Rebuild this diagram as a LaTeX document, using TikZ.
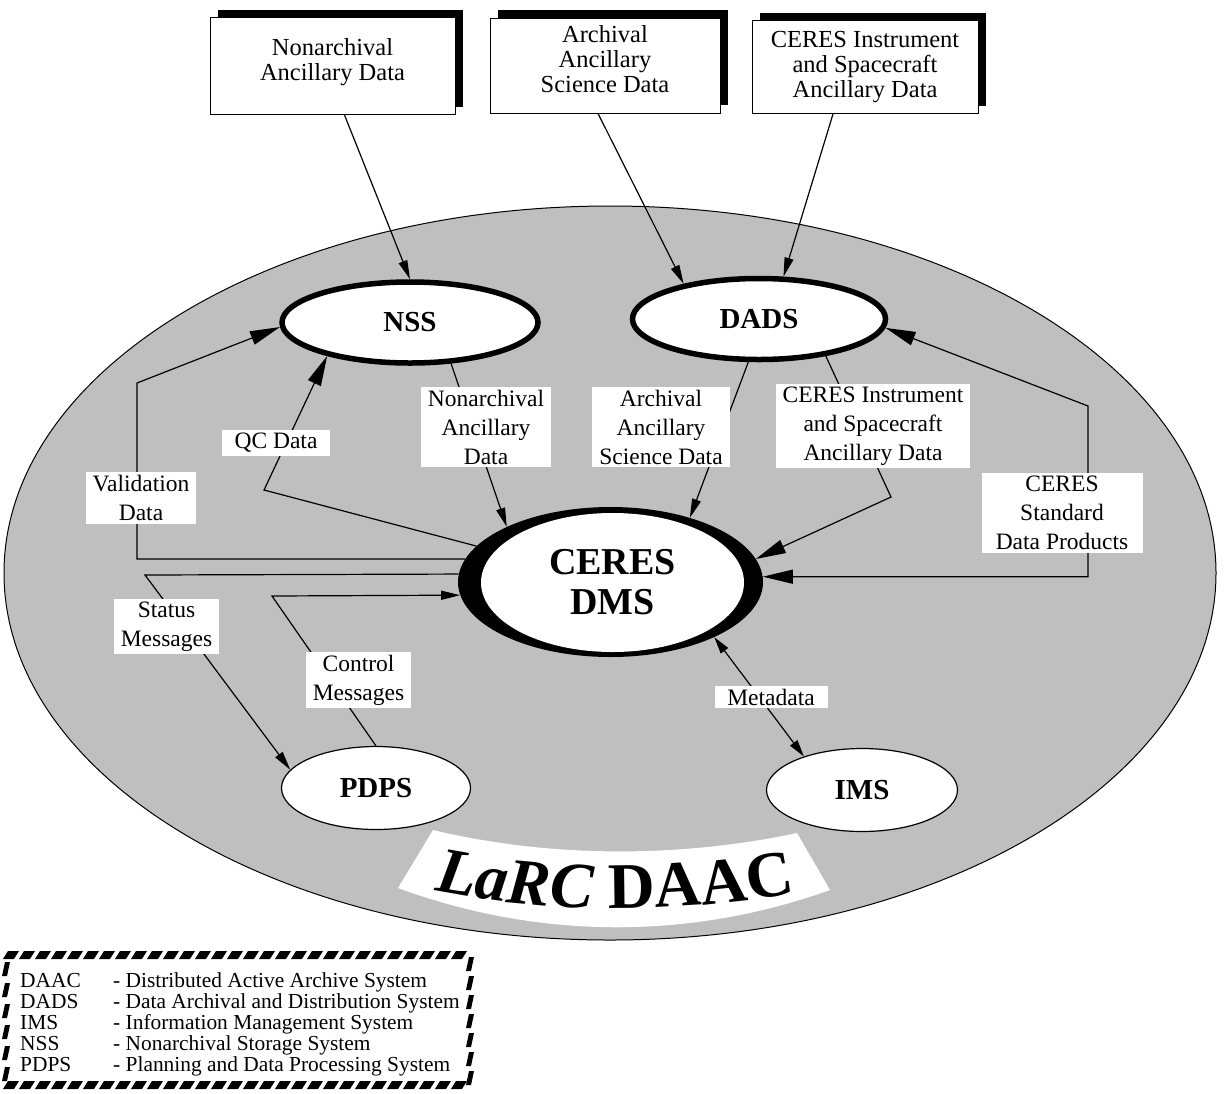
\documentclass[tikz,border=0pt]{standalone}
\usepackage{fontspec}
\setmainfont{Liberation Serif}
\usetikzlibrary{shapes.geometric,arrows.meta,shadows,decorations.text}

\definecolor{daacgray}{gray}{0.75}
\newcommand\lblfont{\fontsize{23.5}{29}\selectfont}
\newcommand\boxfont{\fontsize{24.5}{25}\selectfont}
\newcommand\sysfont{\fontsize{29}{30}\selectfont\bfseries}
\newcommand\dmsfont{\fontsize{38}{40}\selectfont\bfseries}
\newcommand\legfont{\fontsize{21.4}{21}\selectfont}
\newcommand\larcit{\fontsize{65}{65}\selectfont\bfseries\itshape}
\newcommand\daacbf{\fontsize{65}{65}\selectfont\bfseries\upshape}

\tikzset{
  srcbox/.style={draw, line width=1pt, fill=white, align=center, font=\boxfont,
    general shadow={shadow xshift=8pt, shadow yshift=8pt, fill=black}},
  sysbig/.style={ellipse, draw, line width=5.5pt, fill=white, font=\sysfont, inner sep=0pt},
  syssmall/.style={ellipse, draw, line width=1.2pt, fill=white, font=\sysfont, inner sep=0pt},
  lbl/.style={fill=white, align=center, font=\lblfont, inner xsep=7pt, inner ysep=3pt},
  legtxt/.style={anchor=base west, inner sep=0pt, font=\legfont},
  flow/.style={line width=1.2pt},
  bigtip/.style={flow, -{Triangle[length=30pt,width=14pt]}},
  smalltip/.style={flow, -{Triangle[length=19pt,width=9pt]}},
}

\begin{document}
\begin{tikzpicture}[x=1pt,y=-1pt]
\useasboundingbox (0,0) rectangle (1225,1093);

% LaRC DAAC area
\draw[line width=1pt, fill=daacgray] (610,573) ellipse [x radius=606, y radius=367];
\fill[white] (433,830) .. controls (550,858) and (680,858) .. (797,833)
  -- (830,890) .. controls (690,940) and (540,940) .. (398,888) -- cycle;
\path[decorate, decoration={text along path, text align=center,
  text={|\larcit|LaRC |\daacbf|DAAC}}]
  (405,884) .. controls (535,916) and (695,916) .. (825,886);

% external ancillary data sources
\node[srcbox, minimum width=245pt, minimum height=97pt, text depth=14pt] (nad) at (332.5,66) {Nonarchival\\Ancillary Data};
\node[srcbox, minimum width=230pt, minimum height=95pt, text depth=14pt] (aasd) at (605,65.5) {Archival\\Ancillary\\Science Data};
\node[srcbox, minimum width=226pt, minimum height=93pt] (cisa) at (865,67) {CERES Instrument\\and Spacecraft\\Ancillary Data};

% DAAC subsystems
\node[sysbig, minimum width=256pt, minimum height=81pt] (nss) at (410,322.5) {NSS};
\node[sysbig, minimum width=253pt, minimum height=81pt] (dads) at (759,319) {DADS};
\node[ellipse, fill=black, minimum width=305pt, minimum height=150pt, inner sep=0pt] (dms) at (610.5,582) {};
\node[ellipse, fill=white, minimum width=263pt, minimum height=139pt, inner sep=0pt,
  font=\dmsfont, align=center] (dmstext) at (612.5,582.5) {CERES\\DMS};
\node[syssmall, minimum width=189pt, minimum height=83pt] (pdps) at (376,788) {PDPS};
\node[syssmall, minimum width=191pt, minimum height=83pt] (ims) at (862,790) {IMS};

% bends
\coordinate (valbend) at (137,383);
\coordinate (qcbend) at (264,490);
\coordinate (stbend) at (145,575);
\coordinate (ctbend) at (272,596);
\coordinate (ciabend) at (891,497);
\coordinate (sdpbend) at (1088,406);

% flows
\draw[smalltip] ([xshift=12pt]nad.south) -- (nss.north);
\draw[smalltip] ([xshift=-7pt]aasd.south) -- (dads.155);
\draw[smalltip] ([xshift=-32pt]cisa.south) -- (dads.60);
\draw[bigtip] (dms.171) -| (valbend) -- (nss.182);
\draw[bigtip] (dms.165) -- (qcbend) -- (nss.202);
\draw[smalltip] (dms.177) -- (stbend) -- (pdps.168);
\draw[smalltip] (pdps.north) -- (ctbend) -- (dms.185);
\draw[smalltip] (nss.315) -- (dms.152);
\draw[smalltip] (dads.256) -- (dms.39);
\draw[bigtip] (dads.331) -- (ciabend) -- (dms.9);
\draw[flow, {Triangle[length=30pt,width=14pt]}-{Triangle[length=30pt,width=14pt]}] (dms.2) -| (sdpbend) -- (dads.356);
\draw[flow, {Triangle[length=17pt,width=9pt]}-{Triangle[length=17pt,width=9pt]}] (dms.332) -- (ims.150);

% flow labels
\node[lbl] (vald) at (141,498) {Validation\\Data};
\node[lbl, minimum width=108pt] (qcd) at (276,443) {QC Data};
\node[lbl] (stm) at (166.5,626.5) {Status\\Messages};
\node[lbl] (ctm) at (358.5,680) {Control\\Messages};
\node[lbl] (nadl) at (486,427) {Nonarchival\\Ancillary\\Data};
\node[lbl] (aasdl) at (661,427) {Archival\\Ancillary\\Science Data};
\node[lbl] (cisal) at (873,426) {CERES Instrument\\and Spacecraft\\Ancillary Data};
\node[lbl, minimum width=161pt] (sdpl) at (1062,513) {CERES\\Standard\\Data Products};
\node[lbl, minimum width=113pt] (meta) at (771,697) {Metadata};

% legend
\foreach \mx in {3,19,...,459} \fill (\mx,959) -- ++(5,-8) -- ++(11,0) -- ++(-5,8) -- cycle;
\foreach \mx in {3,19,...,459} \fill (\mx,1089) -- ++(5,-8) -- ++(11,0) -- ++(-5,8) -- cycle;
\foreach \my in {969,990,...,1074} \fill (2,\my+7) -- ++(3,-14) -- ++(5,0) -- ++(-3,14) -- cycle;
\foreach \my in {964,983,...,1078} \fill (466,\my+7) -- ++(3,-14) -- ++(5,0) -- ++(-3,14) -- cycle;
\foreach \abbr/\desc [count=\i from 0] in {DAAC/Distributed Active Archive System,
    DADS/Data Archival and Distribution System, IMS/Information Management System,
    NSS/Nonarchival Storage System, PDPS/Planning and Data Processing System} {
  \node[legtxt] (abbr\i) at (20,987+21*\i) {\abbr};
  \node[legtxt] (desc\i) at (113,987+21*\i) {- \desc};
}
\end{tikzpicture}
\end{document}
